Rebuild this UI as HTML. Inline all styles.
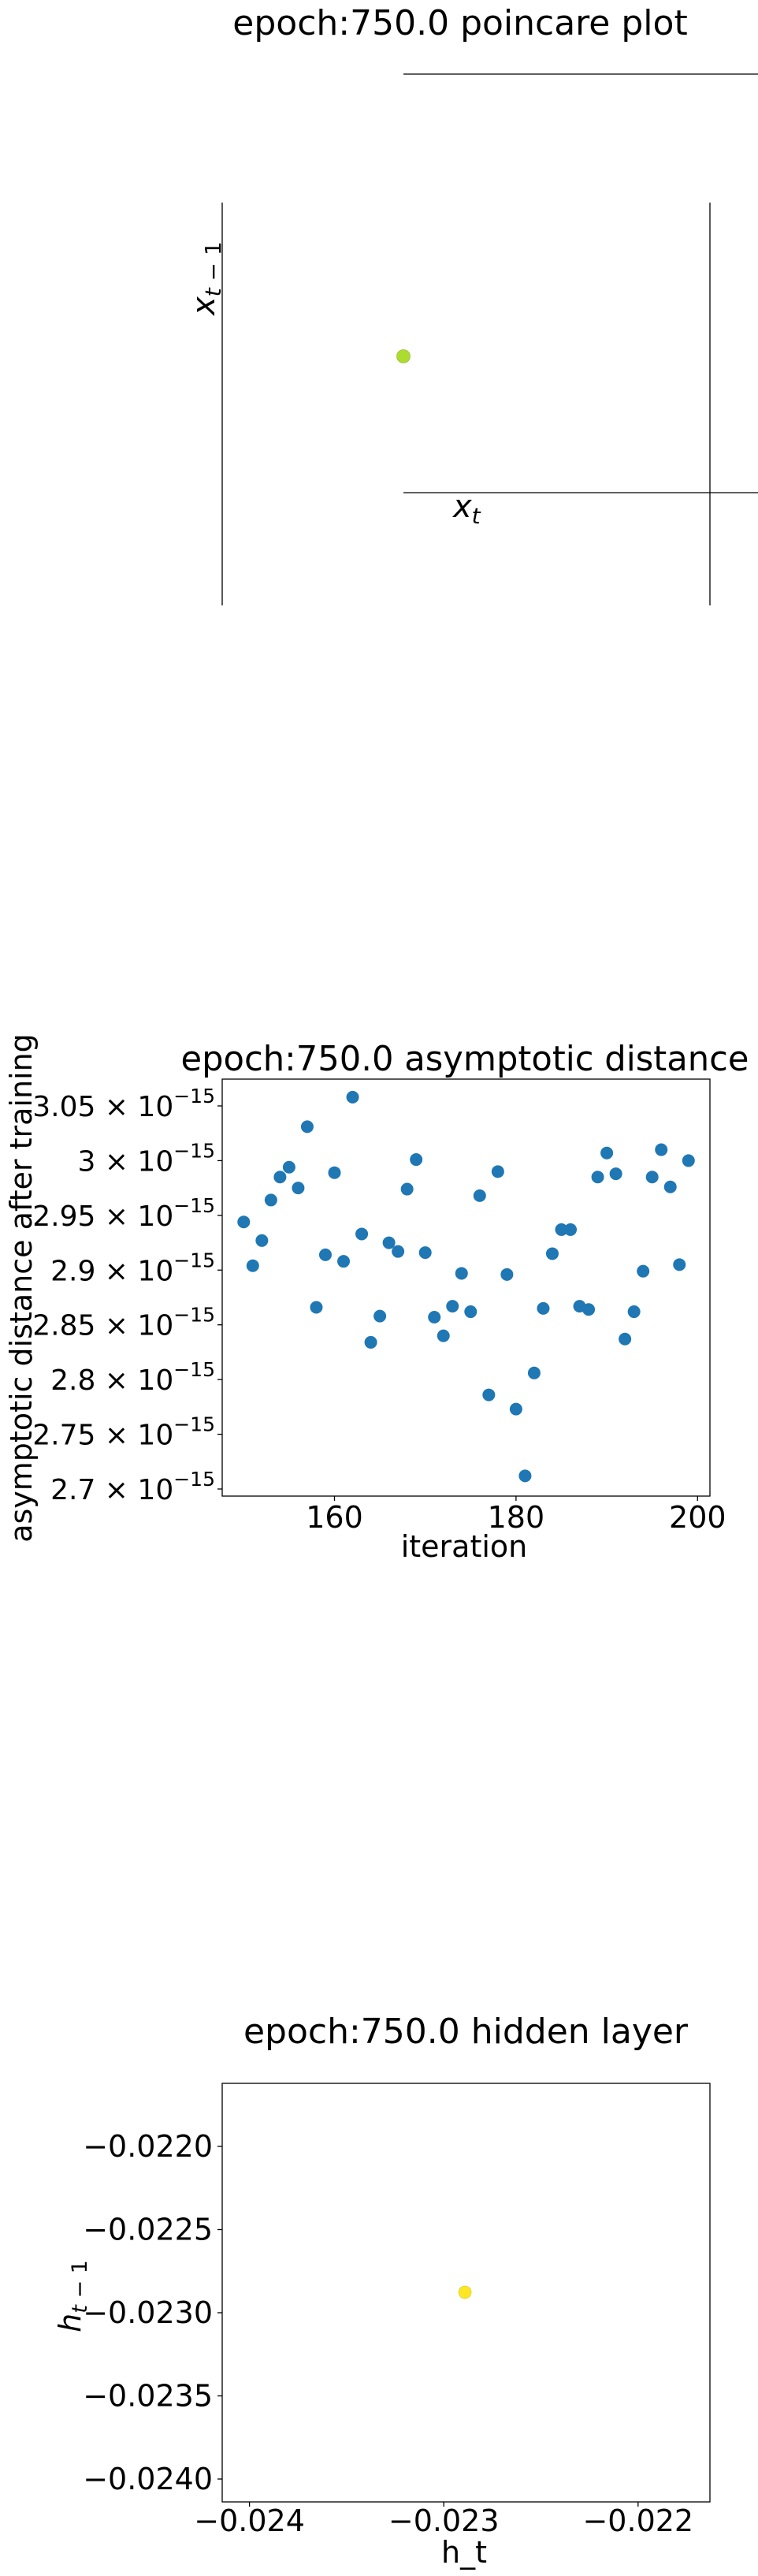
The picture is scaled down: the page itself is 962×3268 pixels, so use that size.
<!DOCTYPE html>
<html><head><meta charset="utf-8"><style>
html,body{margin:0;padding:0;background:#fff}
svg{display:block}
text{font-family:"DejaVu Sans","Liberation Sans",sans-serif;fill:#000}
</style></head><body>
<svg id="fig" width="962" height="3268" viewBox="0 0 962 3268" xmlns="http://www.w3.org/2000/svg">
  <g>
    <text x="584" y="44" font-size="44" text-anchor="middle">epoch:750.0 poincare plot</text>
    <line x1="512" y1="94" x2="962" y2="94" stroke="#000" stroke-width="1.3"/>
    <line x1="282" y1="257" x2="282" y2="768" stroke="#000" stroke-width="1.3"/>
    <line x1="901" y1="257" x2="901" y2="768" stroke="#000" stroke-width="1.3"/>
    <line x1="512" y1="625" x2="962" y2="625" stroke="#000" stroke-width="1.3"/>
    <circle cx="512" cy="452" r="8.5" fill="#addc30" stroke="#8fb020" stroke-width="0.6"/>
    <text x="575" y="656" font-size="40" font-style="italic">x<tspan font-size="28" dy="8">t</tspan></text>
    <text transform="translate(272,400) rotate(-90)" font-size="40" font-style="italic">x<tspan font-size="28" dy="8">t</tspan><tspan font-size="28" font-style="normal"> − 1</tspan></text>
  </g>

  <g id="c2">
    <text x="590" y="1358" font-size="44" text-anchor="middle" textLength="721" lengthAdjust="spacingAndGlyphs">epoch:750.0 asymptotic distance</text>
    <rect x="282" y="1369" width="619" height="529" fill="none" stroke="#000" stroke-width="1.3"/>
    <text x="589" y="1975" font-size="38" text-anchor="middle">iteration</text>
    <text transform="translate(40,1634) rotate(-90)" font-size="38" text-anchor="middle">asymptotic distance after training</text>
  </g>

  <g id="c3">
    <text x="591" y="2592" font-size="44" text-anchor="middle">epoch:750.0 hidden layer</text>
    <rect x="282" y="2643" width="619" height="531" fill="none" stroke="#000" stroke-width="1.3"/>
    <text x="589" y="3251" font-size="38" text-anchor="middle">h_t</text>
    <text transform="translate(102,2913) rotate(-90)" font-size="38" font-style="italic" text-anchor="middle">h<tspan font-size="27" dy="8">t</tspan><tspan font-size="27" font-style="normal"> − 1</tspan></text>
  </g>
</svg>
<script>
const iterations = [150,151,152,153,154,155,156,157,158,159,160,161,162,163,164,165,166,167,168,169,170,171,172,173,174,175,176,177,178,179,180,181,182,183,184,185,186,187,188,189,190,191,192,193,194,195,196,197,198,199];
const distances = [2.944,2.904,2.927,2.964,2.985,2.994,2.975,3.031,2.866,2.914,2.989,2.908,3.058,2.933,2.834,2.858,2.925,2.917,2.974,3.001,2.916,2.857,2.840,2.867,2.897,2.862,2.968,2.786,2.990,2.896,2.773,2.712,2.806,2.865,2.915,2.937,2.937,2.867,2.864,2.985,3.007,2.988,2.837,2.862,2.899,2.985,3.010,2.976,2.905,3.000];
const xTicks2 = [160,180,200];
const yTicks2 = [2.7,2.75,2.8,2.85,2.9,2.95,3,3.05];
const yTickLabels2 = ["2.7","2.75","2.8","2.85","2.9","2.95","3","3.05"];
const hiddenX = [-0.022891];
const hiddenY = [-0.022877];
const xTicks3 = [-0.024,-0.023,-0.022];
const xTickLabels3 = ["−0.024","−0.023","−0.022"];
const yTicks3 = [-0.022,-0.0225,-0.023,-0.0235,-0.024];
const yTickLabels3 = ["−0.0220","−0.0225","−0.0230","−0.0235","−0.0240"];

const NS = "http://www.w3.org/2000/svg";
function mk(tag, attrs, parent){const e=document.createElementNS(NS,tag);for(const k in attrs)e.setAttribute(k,attrs[k]);parent.appendChild(e);return e;}

const x2 = v => 424.5 + (v-160)*(885.3-424.5)/40;
const y2 = v => 1403 + (3.05-v)*(1889-1403)/0.35;
const c2 = document.getElementById('c2');
xTicks2.forEach(t=>{
  const l=mk('line',{x1:x2(t),x2:x2(t),y1:1898,y2:1904,stroke:'#000','stroke-width':1.3},c2);
  
  
  const tx=mk('text',{x:x2(t),y:1938,'font-size':38,'text-anchor':'middle'},c2);
  tx.textContent=t;
  
  
});
yTicks2.forEach((t,i)=>{
  const y=y2(t);
  const l=mk('line',{x1:276,x2:282,y1:y,y2:y,stroke:'#000','stroke-width':1.3},c2);
  
  
  const tx=mk('text',{x:273,y:y+13,'font-size':36,'text-anchor':'end'},c2);
  
  
  tx.innerHTML=yTickLabels2[i]+' × 10<tspan font-size="25" dy="-17">−15</tspan>';
});
iterations.forEach((it,i)=>{
  const c=mk('circle',{cx:x2(it),cy:y2(distances[i]),r:8,fill:'#1f77b4'},c2);
  
  
});

const x3 = v => 316.6 + (v+0.024)*(809.8-316.6)/0.002;
const y3 = v => 2723 + (-0.022-v)*(3145-2723)/0.002;
const c3 = document.getElementById('c3');
xTicks3.forEach((t,i)=>{
  const l=mk('line',{x1:x3(t),x2:x3(t),y1:3174,y2:3180,stroke:'#000','stroke-width':1.3},c3);
  
  
  const tx=mk('text',{x:x3(t),y:3211,'font-size':38,'text-anchor':'middle'},c3);
  tx.textContent=xTickLabels3[i];
  
  
});
yTicks3.forEach((t,i)=>{
  const y=y3(t);
  const l=mk('line',{x1:276,x2:282,y1:y,y2:y,stroke:'#000','stroke-width':1.3},c3);
  
  
  const tx=mk('text',{x:270,y:y+13,'font-size':38,'text-anchor':'end'},c3);
  tx.textContent=yTickLabels3[i];
  
  
});
hiddenX.forEach((hx,i)=>{
  const c=mk('circle',{cx:x3(hx),cy:y3(hiddenY[i]),r:8,fill:'#fde725',stroke:'#d8c41f','stroke-width':0.6},c3);
  
  
});
</script>
</body></html>
